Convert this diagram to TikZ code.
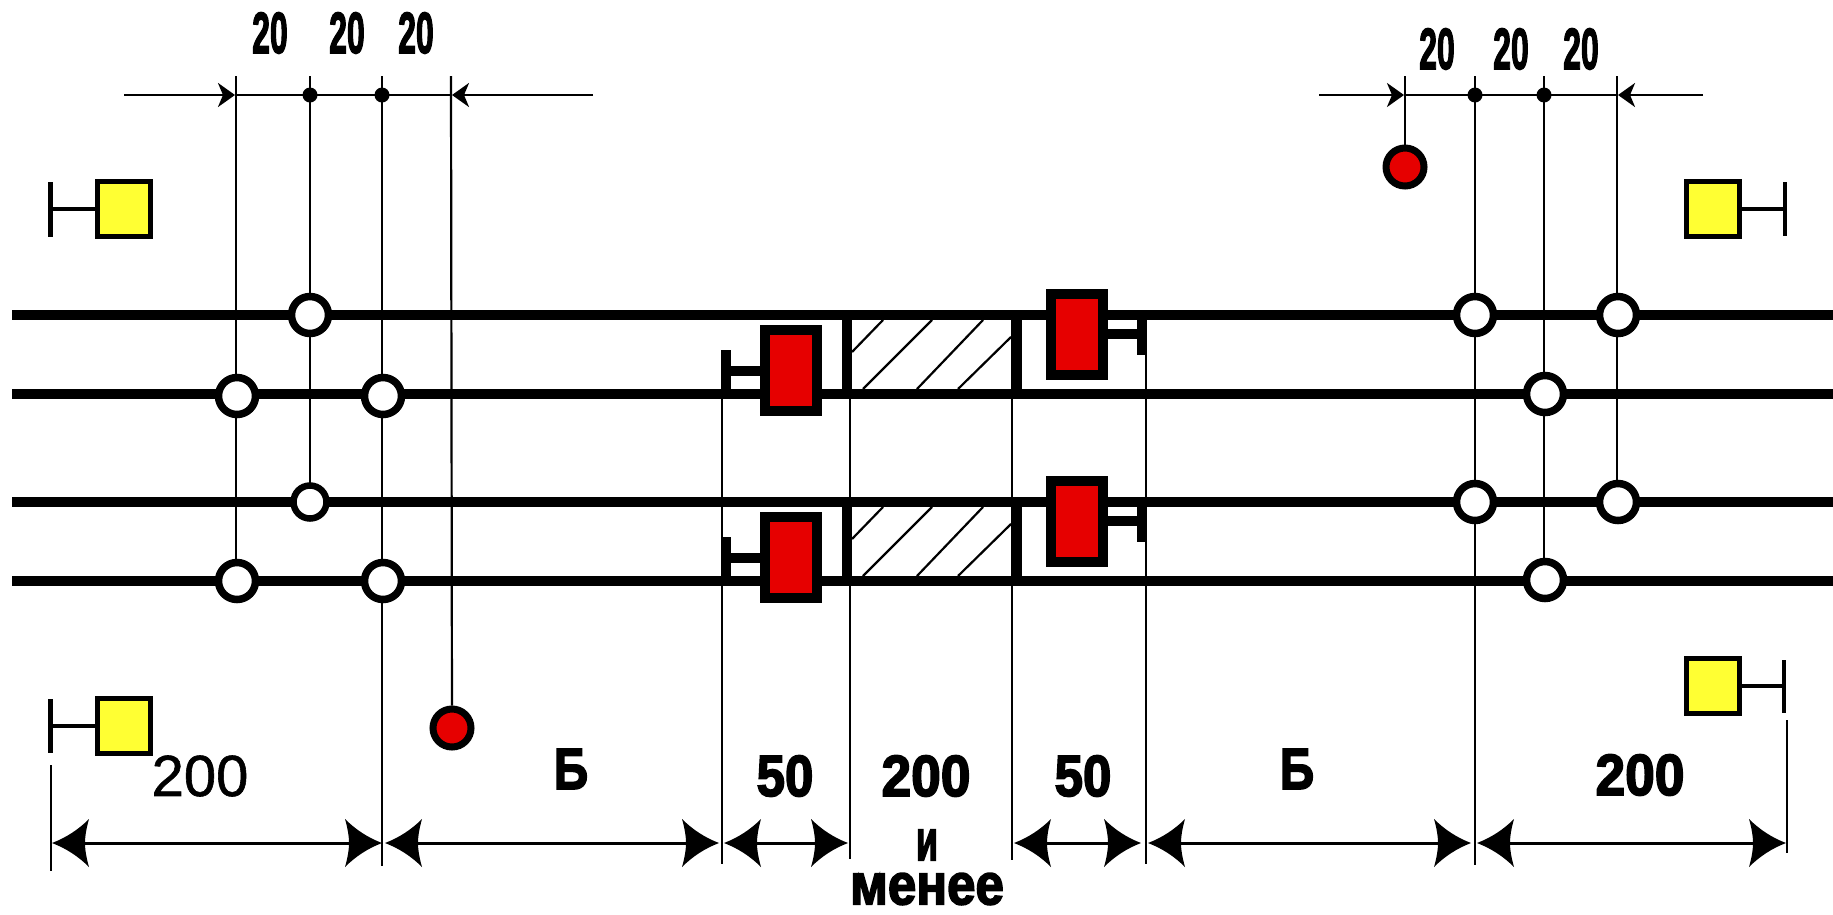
\documentclass[tikz,border=0pt]{standalone}
\usepackage{graphicx}
\usepackage{fontspec}
\setmainfont{Liberation Sans}
\newfontfamily\condfont[FakeBold=3]{Liberation Sans}
\newfontfamily\plainfont[FakeBold=1]{Liberation Sans}
\usetikzlibrary{arrows.meta}
\newcommand{\squeeze}[2][.55]{\scalebox{#1}[1]{#2}}
% spear head of the long dimension lines
\pgfdeclarearrow{
  name=Spear,
  setup code={\pgfarrowssettipend{0pt}\pgfarrowssetlineend{-24pt}\pgfarrowssetvisualbackend{-31pt}\pgfarrowssetbackend{-37pt}},
  drawing code={
    \pgfpathmoveto{\pgfpointorigin}
    \pgfpathquadraticcurveto{\pgfpoint{-21pt}{8pt}}{\pgfpoint{-37pt}{24pt}}
    \pgfpathquadraticcurveto{\pgfpoint{-33pt}{10pt}}{\pgfpoint{-33pt}{0pt}}
    \pgfpathquadraticcurveto{\pgfpoint{-33pt}{-10pt}}{\pgfpoint{-37pt}{-24pt}}
    \pgfpathquadraticcurveto{\pgfpoint{-21pt}{-8pt}}{\pgfpointorigin}
    \pgfpathclose
    \pgfusepathqfill
  }
}
\definecolor{signalred}{HTML}{E60000}
\definecolor{signalyellow}{HTML}{FFFF33}
\tikzset{
  track/.style    = {line width=10pt},
  thin line/.style = {line width=2.2pt},
  dimline/.style  = {line width=2.6pt},
  stopline/.style = {line width=10pt},
  bar/.style      = {line width=4.5pt},
  joint/.style    = {circle, draw, fill=white, line width=7.5pt, minimum size=37pt, inner sep=0pt},
  small joint/.style = {joint, line width=6.5pt, minimum size=33pt},
  lamp/.style     = {circle, draw, fill=signalred, line width=7pt, minimum size=38pt, inner sep=0pt},
  dot/.style      = {circle, fill=black, minimum size=15pt, inner sep=0pt},
  shoe/.style     = {rectangle, draw, fill=signalred, line width=10pt, minimum width=52pt, minimum height=81pt, inner sep=0pt},
  board/.style    = {rectangle, draw, fill=signalyellow, line width=5pt, minimum width=53pt, minimum height=55pt, inner sep=0pt},
  cond/.style     = {inner sep=0pt, font=\condfont\bfseries\fontsize{58}{58}\selectfont},
  plain/.style    = {inner sep=0pt, font=\plainfont\fontsize{58}{58}\selectfont},
  small head/.style = {-{Stealth[length=17pt,width=24pt,inset=5pt]}, dimline},
  long dim/.style = {{Spear}-{Spear}, line width=3pt}
}
\begin{document}
\begin{tikzpicture}[x=1pt,y=-1pt]
\useasboundingbox (0,0) rectangle (1833,914);

% rails
\foreach \y in {315,394,502,581}
  \draw[track] (12,\y) -- (1833,\y);

% thin vertical lines, left and right group
\foreach \x/\ya/\yb in {236/76/581, 310/76/502, 382/76/866, 1475/76/865, 1544/76/581, 1617/76/502,
                        722/350/864, 850/315/859, 1012/315/860, 1146/315/864, 51/765/871, 1787/720/853}
  \draw[thin line] (\x,\ya) -- (\x,\yb);

% hatched stretch between the rails
\foreach \dy in {0,187} {
  \draw[thin line] (852,352+\dy) -- (883,320+\dy);
  \draw[thin line] (863,389+\dy) -- (932,320+\dy);
  \draw[thin line] (917,389+\dy) -- (983,320+\dy);
  \draw[thin line] (958,389+\dy) -- (1011,337+\dy);
  \draw[stopline] (847,315+\dy) -- (847,394+\dy);
  \draw[stopline] (1017,315+\dy) -- (1017,394+\dy);
}

% stop markers
\node[shoe] (s1) at (791,370) {};
\node[shoe] (s2) at (791,557) {};
\node[shoe] (s3) at (1077,334) {};
\node[shoe] (s4) at (1077,521) {};
\draw[stopline] (726,350) -- (726,394);
\draw[stopline] (726,537) -- (726,581);
\draw[stopline] (1141.5,315) -- (1141.5,355);
\draw[stopline] (1141.5,502) -- (1141.5,542);
\draw[stopline] (s1.west |- 0,371) -- (731,371);
\draw[stopline] (s2.west |- 0,558) -- (731,558);
\draw[stopline] (s3.east |- 0,334) -- (1137,334);
\draw[stopline] (s4.east |- 0,521) -- (1137,521);

% insulated joints
\foreach \name/\x/\y in {a1/310/315, a2/237/396, a3/383/396, a4/237/581, a5/383/581,
                         b1/1475/315, b2/1618/315, b3/1545/394, b4/1545/580, b5/1475/502, b6/1618/502}
  \node[joint] (\name) at (\x,\y) {};
\node[small joint] (a6) at (310,502) {};

% signal lamps
\node[lamp] (l1) at (452,728) {};
\node[lamp] (l2) at (1405,167) {};
\draw[thin line] (451,76) -- (l1);
\draw[thin line] (1405,76) -- (l2);

% yellow boards with their stems
\node[board] (y1) at (124,209) {};
\node[board] (y2) at (124,726) {};
\node[board] (y3) at (1713,209) {};
\node[board] (y4) at (1713,686) {};
\draw[bar] (y1) -- (50.5,209);
\draw[bar] (y2) -- (50.5,726);
\draw[bar] (y3) -- (1785,209);
\draw[bar] (y4) -- (1784,686);
\draw[bar] (50.5,182) -- (50.5,237);
\draw[bar] (50.5,699) -- (50.5,753);
\draw[bar] (1785,182) -- (1785,236);
\draw[bar] (1784,660) -- (1784,713);
\foreach \name in {y1,y2,y3,y4}
  \node[board] at (\name) {};

% upper dimension lines
\draw[small head] (124,95) -- (235,95);
\draw[small head] (593,95) -- (452,95);
\draw[dimline] (236,95) -- (451,95);
\draw[small head] (1319,95) -- (1404,95);
\draw[small head] (1703,95) -- (1618,95);
\draw[dimline] (1405,95) -- (1617,95);
\foreach \name/\x in {d1/310,d2/382,d3/1475,d4/1544}
  \node[dot] (\name) at (\x,95) {};

% lower dimension lines
\foreach \xa/\xb in {52/382, 385/719, 724/848, 1014/1141, 1148/1471, 1477/1786}
  \draw[long dim] (\xa,843) -- (\xb,843);

% labels
\foreach \name/\x/\y in {t1/270/33, t2/347/33, t3/416/33, t4/1437/49, t5/1511/49, t6/1581/49}
  \node[cond] (\name) at (\x,\y) {\squeeze{20}};
\node[plain] (n1) at (200,776) {200};
\node[cond] (n2) at (571,769) {\squeeze[.82]{Б}};
\node[cond] (n3) at (785,776) {\squeeze[.88]{50}};
\node[cond] (n4) at (926,776) {\squeeze[.92]{200}};
\node[cond] (n5) at (1083,776) {\squeeze[.88]{50}};
\node[cond] (n6) at (1297,769) {\squeeze[.82]{Б}};
\node[cond] (n7) at (1640,775) {\squeeze[.92]{200}};
\node[cond] (n8) at (927,845) {\squeeze[.62]{и}};
\node[cond] (n9) at (927,889) {\squeeze[.88]{менее}};
\end{tikzpicture}
\end{document}
